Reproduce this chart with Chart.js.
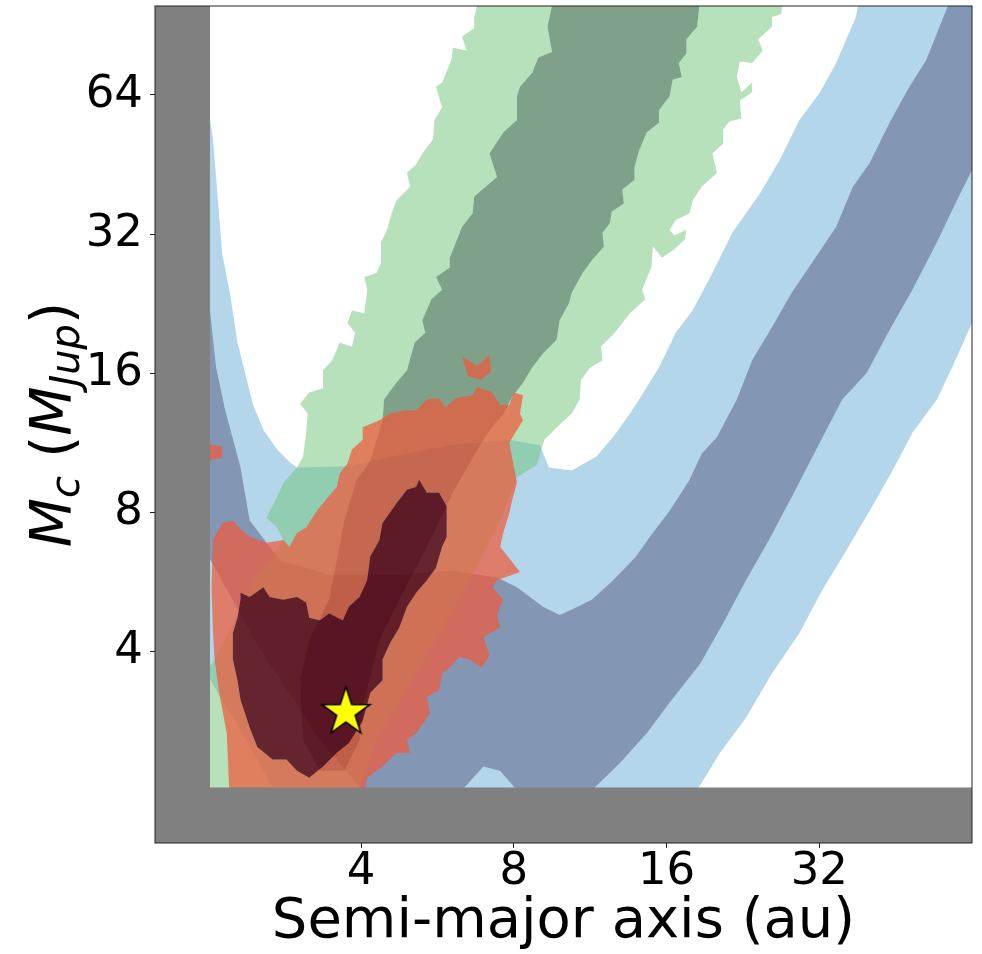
<!DOCTYPE html>
<html>
<head>
<meta charset="utf-8">
<title>Mc vs semi-major axis</title>
<script src="https://cdn.jsdelivr.net/npm/chart.js@4.4.0/dist/chart.umd.min.js"></script>
<style>
  html, body { margin: 0; padding: 0; background: #fff; }
  canvas { display: block; }
</style>
</head>
<body>
<canvas id="chart" width="982" height="954"></canvas>
<script>
// Both axes are in log2 units: x = log2(a / au), y = log2(Mc / MJup)
const xRange = [0.65, 6.0];
const yRange = [0.62, 6.64];
const xTicks = [2, 3, 4, 5];
const xTickLabels = ['4', '8', '16', '32'];
const yTicks = [2, 3, 4, 5, 6];
const yTickLabels = ['4', '8', '16', '32', '64'];

// ================= blue contours (outer / inner level) =================
const blueOuter = [[4.20,1.0],[4.35,1.27],[4.52,1.52],[4.69,1.84],[4.87,2.13],[5.02,2.44],[5.18,2.73],[5.33,3.01],[5.48,3.30],[5.61,3.57],[5.77,3.81],[5.87,4.04],[6.0,4.36],[6.1,4.36],[6.1,6.8],[5.28,6.8],[5.24,6.56],[5.11,6.23],[5.00,6.01],[4.87,5.82],[4.74,5.53],[4.61,5.29],[4.43,5.01],[4.30,4.72],[4.17,4.45],[4.06,4.29],[3.95,4.04],[3.82,3.81],[3.76,3.71],[3.65,3.54],[3.54,3.40],[3.38,3.30],[3.23,3.32],[3.17,3.48],[2.97,3.52],[2.58,3.48],[2.25,3.41],[1.92,3.33],[1.58,3.32],[1.53,3.36],[1.45,3.45],[1.36,3.59],[1.29,3.78],[1.19,4.22],[1.14,4.58],[1.09,4.86],[1.03,5.68],[1.01,5.83],[0.9,5.83],[0.9,2.0],[1.21,1.43],[1.43,1.0]];
const blueInner = [[5.90,6.8],[5.70,6.25],[5.59,6.06],[5.46,5.80],[5.33,5.51],[5.22,5.34],[5.11,5.05],[4.95,4.79],[4.82,4.58],[4.69,4.33],[4.56,4.09],[4.46,3.81],[4.33,3.54],[4.23,3.42],[4.15,3.23],[4.02,3.01],[3.89,2.82],[3.80,2.68],[3.65,2.51],[3.51,2.37],[3.38,2.30],[3.30,2.26],[3.19,2.32],[3.02,2.46],[2.89,2.53],[2.58,2.58],[2.25,2.55],[1.79,2.55],[1.47,2.65],[1.27,2.94],[1.21,3.32],[1.11,3.73],[1.05,4.04],[1.01,4.45],[0.9,4.45],[0.9,2.66],[1.01,2.66],[1.34,2.01],[1.73,1.36],[2.01,1.0],[2.66,1.0],[2.80,1.17],[2.91,1.14],[3.02,1.0],[3.51,1.0],[3.69,1.19],[3.87,1.41],[4.02,1.63],[4.22,1.91],[4.37,2.20],[4.52,2.51],[4.67,2.80],[4.82,3.11],[4.98,3.45],[5.15,3.81],[5.31,4.00],[5.46,4.31],[5.61,4.60],[5.77,4.94],[5.90,5.24],[6.0,5.46],[6.1,5.46],[6.1,6.8]];

// ================= green contours =================
const greenOuter = [[2.80,6.8],[2.74,6.56],[2.74,6.48],[2.66,6.42],[2.69,6.32],[2.60,6.34],[2.59,6.25],[2.53,6.09],[2.49,6.06],[2.53,5.91],[2.48,5.82],[2.47,5.68],[2.40,5.58],[2.36,5.50],[2.30,5.44],[2.32,5.34],[2.23,5.24],[2.20,5.15],[2.17,5.03],[2.13,4.94],[2.13,4.79],[2.10,4.72],[2.02,4.69],[2.04,4.60],[2.02,4.43],[1.94,4.45],[1.91,4.36],[1.96,4.29],[1.94,4.19],[1.86,4.22],[1.81,4.09],[1.75,4.02],[1.75,3.89],[1.66,3.86],[1.60,3.78],[1.65,3.71],[1.64,3.57],[1.62,3.40],[1.58,3.32],[1.49,3.21],[1.45,3.11],[1.38,2.96],[1.45,2.89],[1.49,2.80],[1.30,2.51],[1.17,2.22],[1.04,1.94],[0.9,1.72],[0.9,0.9],[1.95,0.9],[2.10,1.36],[2.45,2.01],[2.71,2.51],[2.91,2.94],[3.02,3.25],[3.15,3.34],[3.20,3.52],[3.30,3.63],[3.38,3.71],[3.43,3.81],[3.44,3.95],[3.50,4.04],[3.58,4.09],[3.57,4.19],[3.66,4.29],[3.76,4.43],[3.86,4.53],[3.84,4.60],[3.90,4.76],[3.91,4.91],[3.97,4.83],[4.05,4.89],[4.12,4.96],[4.13,5.03],[4.05,4.99],[4.02,5.03],[4.06,5.10],[4.15,5.15],[4.17,5.24],[4.23,5.34],[4.33,5.44],[4.30,5.58],[4.37,5.65],[4.37,5.75],[4.41,5.81],[4.49,5.83],[4.48,5.96],[4.56,6.02],[4.56,6.09],[4.49,6.02],[4.46,6.13],[4.48,6.24],[4.56,6.23],[4.63,6.32],[4.60,6.40],[4.69,6.49],[4.69,6.56],[4.75,6.58],[4.78,6.8]];
const greenInner = [[3.28,6.8],[3.22,6.49],[3.25,6.31],[3.16,6.27],[3.12,6.16],[3.04,6.06],[3.02,5.99],[3.02,5.82],[2.93,5.73],[2.84,5.58],[2.89,5.41],[2.74,5.27],[2.73,5.15],[2.66,5.05],[2.61,4.91],[2.58,4.83],[2.58,4.76],[2.49,4.69],[2.53,4.60],[2.46,4.53],[2.40,4.38],[2.42,4.29],[2.35,4.22],[2.30,4.02],[2.23,3.93],[2.15,3.81],[2.14,3.66],[2.06,3.37],[1.97,3.23],[1.89,2.94],[1.84,2.65],[1.79,2.37],[1.66,2.08],[1.60,1.79],[1.62,1.36],[1.73,1.14],[1.89,1.14],[1.99,1.36],[2.02,1.65],[2.12,2.08],[2.25,2.37],[2.42,2.73],[2.61,3.16],[2.80,3.52],[2.87,3.63],[2.93,3.70],[2.99,3.83],[3.06,3.93],[3.12,4.04],[3.19,4.14],[3.28,4.24],[3.30,4.38],[3.36,4.50],[3.38,4.58],[3.45,4.72],[3.51,4.81],[3.59,4.91],[3.58,5.01],[3.63,5.08],[3.64,5.16],[3.72,5.22],[3.71,5.32],[3.79,5.39],[3.79,5.48],[3.82,5.60],[3.87,5.73],[3.95,5.80],[3.95,5.89],[4.02,5.99],[4.04,6.11],[4.10,6.13],[4.08,6.23],[4.13,6.30],[4.13,6.40],[4.20,6.49],[4.23,6.8]];

// ================= red contours =================
const redOuter = [[1.14,0.9],[1.12,1.41],[1.07,1.70],[1.04,1.94],[1.03,2.13],[1.02,2.46],[1.03,2.80],[1.09,2.92],[1.16,2.94],[1.20,2.89],[1.27,2.82],[1.38,2.78],[1.49,2.80],[1.53,2.75],[1.58,2.85],[1.64,2.89],[1.71,3.01],[1.77,3.09],[1.84,3.18],[1.86,3.28],[1.91,3.35],[1.94,3.45],[2.01,3.52],[2.01,3.61],[2.12,3.66],[2.19,3.71],[2.28,3.73],[2.36,3.73],[2.43,3.81],[2.51,3.82],[2.55,3.75],[2.62,3.82],[2.73,3.84],[2.76,3.90],[2.86,3.86],[2.91,3.77],[2.97,3.77],[3.00,3.86],[3.06,3.84],[3.04,3.71],[3.06,3.66],[2.97,3.50],[3.02,3.21],[2.99,3.09],[2.97,2.99],[2.93,2.85],[2.91,2.75],[3.04,2.57],[2.89,2.51],[2.86,2.46],[2.93,2.37],[2.89,2.26],[2.91,2.17],[2.80,2.10],[2.84,1.97],[2.79,1.88],[2.71,1.94],[2.64,1.96],[2.58,1.88],[2.53,1.84],[2.51,1.72],[2.43,1.67],[2.45,1.55],[2.36,1.41],[2.30,1.36],[2.32,1.27],[2.23,1.27],[2.14,1.17],[2.04,1.09],[2.01,0.9]];
const redInner = [[1.21,2.42],[1.27,2.39],[1.36,2.46],[1.40,2.39],[1.49,2.37],[1.58,2.39],[1.64,2.35],[1.66,2.24],[1.73,2.22],[1.79,2.27],[1.88,2.22],[1.92,2.32],[1.99,2.39],[2.04,2.51],[2.06,2.68],[2.12,2.80],[2.14,2.92],[2.23,3.06],[2.30,3.16],[2.36,3.18],[2.38,3.23],[2.43,3.14],[2.51,3.14],[2.56,3.04],[2.56,2.82],[2.53,2.75],[2.49,2.60],[2.43,2.51],[2.36,2.42],[2.30,2.32],[2.25,2.17],[2.19,2.06],[2.14,1.94],[2.14,1.79],[2.06,1.70],[2.01,1.50],[1.92,1.34],[1.84,1.27],[1.75,1.17],[1.66,1.09],[1.58,1.14],[1.51,1.22],[1.42,1.22],[1.32,1.31],[1.27,1.45],[1.21,1.65],[1.19,1.79],[1.16,1.94],[1.16,2.13],[1.19,2.24],[1.21,2.37]];
const redSpeckA = [[2.66,4.12],[2.76,4.05],[2.84,4.13],[2.85,4.01],[2.78,3.95],[2.70,3.98]];
const redSpeckB = [[0.95,3.50],[1.09,3.47],[1.09,3.39],[0.95,3.36]];

// ================= excluded regions (gray) =================
const grayLeft = [[0.6,0.6],[1.01,0.6],[1.01,6.8],[0.6,6.8]];
const grayBottom = [[0.6,0.6],[6.1,0.6],[6.1,1.02],[0.6,1.02]];

// companion (star)
const companion = [[1.90, 1.56]];

// ================= helpers =================
const toXY = pts => pts.map(([x, y]) => ({ x, y }));

function signedArea(pts) {
  let s = 0;
  pts.forEach((p, i) => {
    const q = pts[(i + 1) % pts.length];
    s += p[0] * q[1] - q[0] * p[1];
  });
  return s;
}

// outer boundary with the inner level cut out (opposite winding -> hole)
function ring(outer, inner) {
  const hole = Math.sign(signedArea(outer)) === Math.sign(signedArea(inner))
    ? inner.slice().reverse() : inner.slice();
  return [...outer, outer[0], ...hole, hole[0], outer[0]];
}

function starImage(R) {
  const c = document.createElement('canvas');
  const s = Math.ceil(2 * R + 6);
  c.width = s; c.height = s;
  const g = c.getContext('2d');
  g.translate(s / 2, s / 2);
  g.beginPath();
  for (let k = 0; k < 10; k++) {
    const r = k % 2 ? R * 0.382 : R;
    const a = -Math.PI / 2 + k * Math.PI / 5;
    g.lineTo(r * Math.cos(a), r * Math.sin(a));
  }
  g.closePath();
  g.fillStyle = '#ffff00';
  g.fill();
  g.lineWidth = 1.5;
  g.strokeStyle = '#000';
  g.stroke();
  return c;
}

// ================= layers, bottom first =================
const layers = [
  { pts: blueOuter, color: '#b3d6ea' },
  { pts: blueInner, color: '#8396b3' },
  { pts: ring(greenOuter, greenInner), color: 'rgba(111,195,119,0.5)' },
  { pts: greenInner, color: 'rgba(0,67,21,0.5)' },
  { pts: ring(redOuter, redInner), color: 'rgba(240,90,60,0.72)' },
  { pts: redSpeckA, color: 'rgba(240,90,60,0.72)' },
  { pts: redSpeckB, color: 'rgba(240,90,60,0.72)' },
  { pts: redInner, color: 'rgba(94,6,24,0.85)' },
  { pts: grayLeft, color: '#808080' },
  { pts: grayBottom, color: '#808080' }
];

const datasets = layers.map((l, i) => ({
  data: toXY(l.pts),
  backgroundColor: l.color,
  borderWidth: 0,
  pointRadius: 0,
  tension: 0,
  fill: 'shape',
  order: 100 - i
}));

datasets.push({
  data: toXY(companion),
  showLine: false,
  pointStyle: starImage(25.4),
  pointRadius: 26,
  order: 0
});

// ================= y title with subscripts =================
const yTitleParts = [
  { text: 'M', font: 'italic 57px "DejaVu Sans"', dy: 0 },
  { text: 'c', font: 'italic 40px "DejaVu Sans"', dy: 8 },
  { text: ' (', font: '57px "DejaVu Sans"', dy: 0 },
  { text: 'M', font: 'italic 57px "DejaVu Sans"', dy: 0 },
  { text: 'Jup', font: 'italic 40px "DejaVu Sans"', dy: 8 },
  { text: ')', font: '57px "DejaVu Sans"', dy: 0 }
];

const yTitlePlugin = {
  id: 'yTitle',
  afterDraw(chart) {
    const { ctx, chartArea } = chart;
    const widths = yTitleParts.map(p => { ctx.font = p.font; return ctx.measureText(p.text).width; });
    const total = widths.reduce((a, b) => a + b, 0);
    ctx.save();
    ctx.translate(71, (chartArea.top + chartArea.bottom) / 2 + total / 2);
    ctx.rotate(-Math.PI / 2);
    ctx.fillStyle = '#000';
    ctx.textBaseline = 'alphabetic';
    let x = 0;
    yTitleParts.forEach((p, i) => {
      ctx.font = p.font;
      ctx.fillText(p.text, x, p.dy);
      x += widths[i];
    });
    ctx.restore();
  }
};

const framePlugin = {
  id: 'frame',
  afterDatasetsDraw(chart) {
    const { ctx, chartArea: a } = chart;
    ctx.save();
    ctx.strokeStyle = '#222';
    ctx.lineWidth = 1;
    ctx.strokeRect(a.left, a.top, a.right - a.left, a.bottom - a.top);
    ctx.restore();
  }
};

// ================= chart =================
Chart.defaults.font.family = '"DejaVu Sans"';
Chart.defaults.color = '#000';

const tickFont = { family: '"DejaVu Sans"', size: 45, lineHeight: 1 };
const axisGrid = { drawOnChartArea: false, drawTicks: true, tickLength: 5, color: '#222' };

// keep the plot box fixed: no extra room for edge labels
const noEdgePadding = s => {
  s.paddingLeft = 0; s.paddingRight = 0; s.paddingTop = 0; s.paddingBottom = 0;
};

new Chart(document.getElementById('chart'), {
  type: 'line',
  data: { datasets },
  options: {
    responsive: false,
    animation: false,
    events: [],
    layout: { autoPadding: false, padding: { top: 6, right: 10, left: 0, bottom: 0 } },
    plugins: { legend: { display: false }, tooltip: { enabled: false } },
    scales: {
      x: {
        type: 'linear',
        min: xRange[0],
        max: xRange[1],
        grid: axisGrid,
        border: { display: false },
        afterBuildTicks: s => { s.ticks = xTicks.map(v => ({ value: v })); },
        afterFit: s => { s.height = 111; noEdgePadding(s); },
        ticks: {
          font: tickFont,
          padding: 2,
          maxRotation: 0,
          autoSkip: false,
          callback: (v, i) => xTickLabels[i]
        },
        title: {
          display: true,
          text: 'Semi-major axis (au)',
          font: { family: '"DejaVu Sans"', size: 56, lineHeight: 1 },
          padding: { top: 0, bottom: 4 }
        }
      },
      y: {
        type: 'linear',
        min: yRange[0],
        max: yRange[1],
        grid: axisGrid,
        border: { display: false },
        afterBuildTicks: s => { s.ticks = yTicks.map(v => ({ value: v })); },
        afterFit: s => { s.width = 155; noEdgePadding(s); },
        ticks: {
          font: tickFont,
          padding: 7,
          autoSkip: false,
          callback: (v, i) => yTickLabels[i]
        }
      }
    }
  },
  plugins: [yTitlePlugin, framePlugin]
});
</script>
</body>
</html>
